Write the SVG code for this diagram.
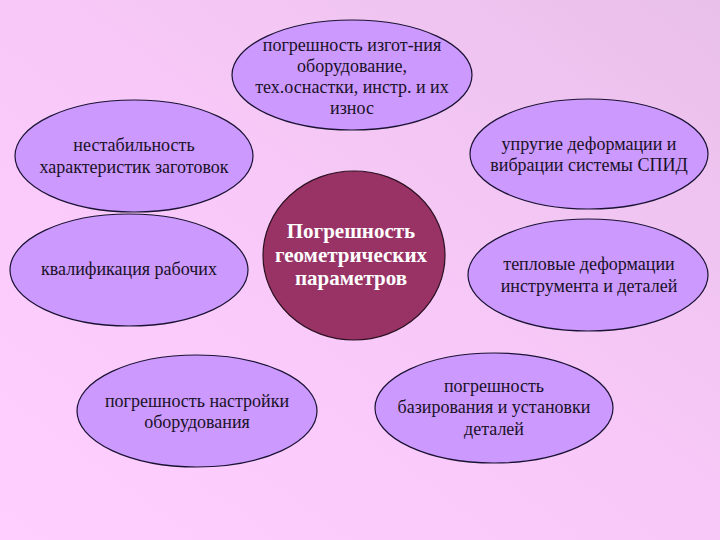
<svg xmlns="http://www.w3.org/2000/svg" width="720" height="540" viewBox="0 0 720 540">
<defs>
<linearGradient id="bg" x1="1" y1="0" x2="0" y2="1">
<stop offset="0" stop-color="#E9C0EA"/>
<stop offset="0.5" stop-color="#F8C9F8"/>
<stop offset="1" stop-color="#FFCFFF"/>
</linearGradient>
<style>
.n{fill:#CC99FF;stroke:#1A1233;stroke-width:1.2}
.c{fill:#993366;stroke:#2A1020;stroke-width:1.2}
.t{font-family:"Liberation Serif","DejaVu Serif","Times New Roman",serif;font-size:18px;fill:#1A1228;text-anchor:middle}
.w{font-family:"Liberation Serif","DejaVu Serif","Times New Roman",serif;font-size:21px;font-weight:bold;fill:#FFFFFF;text-anchor:middle}
</style>
</defs>
<rect x="0" y="0" width="720" height="540" fill="url(#bg)"/>
<g id="connectors"/>
<g id="center">
<ellipse class="c" cx="354" cy="255.5" rx="91" ry="84.5"/>
<text class="w" x="351" y="238">Погрешность</text>
<text class="w" x="351" y="262">геометрических</text>
<text class="w" x="351" y="285">параметров</text>
</g>
<g id="n-top">
<ellipse class="n" cx="352" cy="75" rx="120" ry="55"/>
<text class="t" x="352" y="51">погрешность изгот-ния</text>
<text class="t" x="352" y="72">оборудование,</text>
<text class="t" x="352" y="93">тех.оснастки, инстр. и их</text>
<text class="t" x="352" y="114">износ</text>
</g>
<g id="n-upper-left">
<ellipse class="n" cx="134" cy="156" rx="119" ry="56"/>
<text class="t" x="134" y="151">нестабильность</text>
<text class="t" x="134" y="173">характеристик заготовок</text>
</g>
<g id="n-upper-right">
<ellipse class="n" cx="589" cy="154" rx="119" ry="55"/>
<text class="t" x="589" y="150">упругие деформации и</text>
<text class="t" x="589" y="171">вибрации системы СПИД</text>
</g>
<g id="n-mid-left">
<ellipse class="n" cx="129" cy="270" rx="119" ry="56"/>
<text class="t" x="129" y="275">квалификация рабочих</text>
</g>
<g id="n-mid-right">
<ellipse class="n" cx="588" cy="275" rx="120" ry="56"/>
<text class="t" x="589" y="270">тепловые деформации</text>
<text class="t" x="589" y="292">инструмента и деталей</text>
</g>
<g id="n-bottom-left">
<ellipse class="n" cx="197" cy="411" rx="120" ry="56"/>
<text class="t" x="197" y="407">погрешность настройки</text>
<text class="t" x="197" y="428">оборудования</text>
</g>
<g id="n-bottom-right">
<ellipse class="n" cx="494" cy="408" rx="119" ry="55"/>
<text class="t" x="494" y="392">погрешность</text>
<text class="t" x="494" y="413">базирования и установки</text>
<text class="t" x="494" y="435">деталей</text>
</g>
</svg>
